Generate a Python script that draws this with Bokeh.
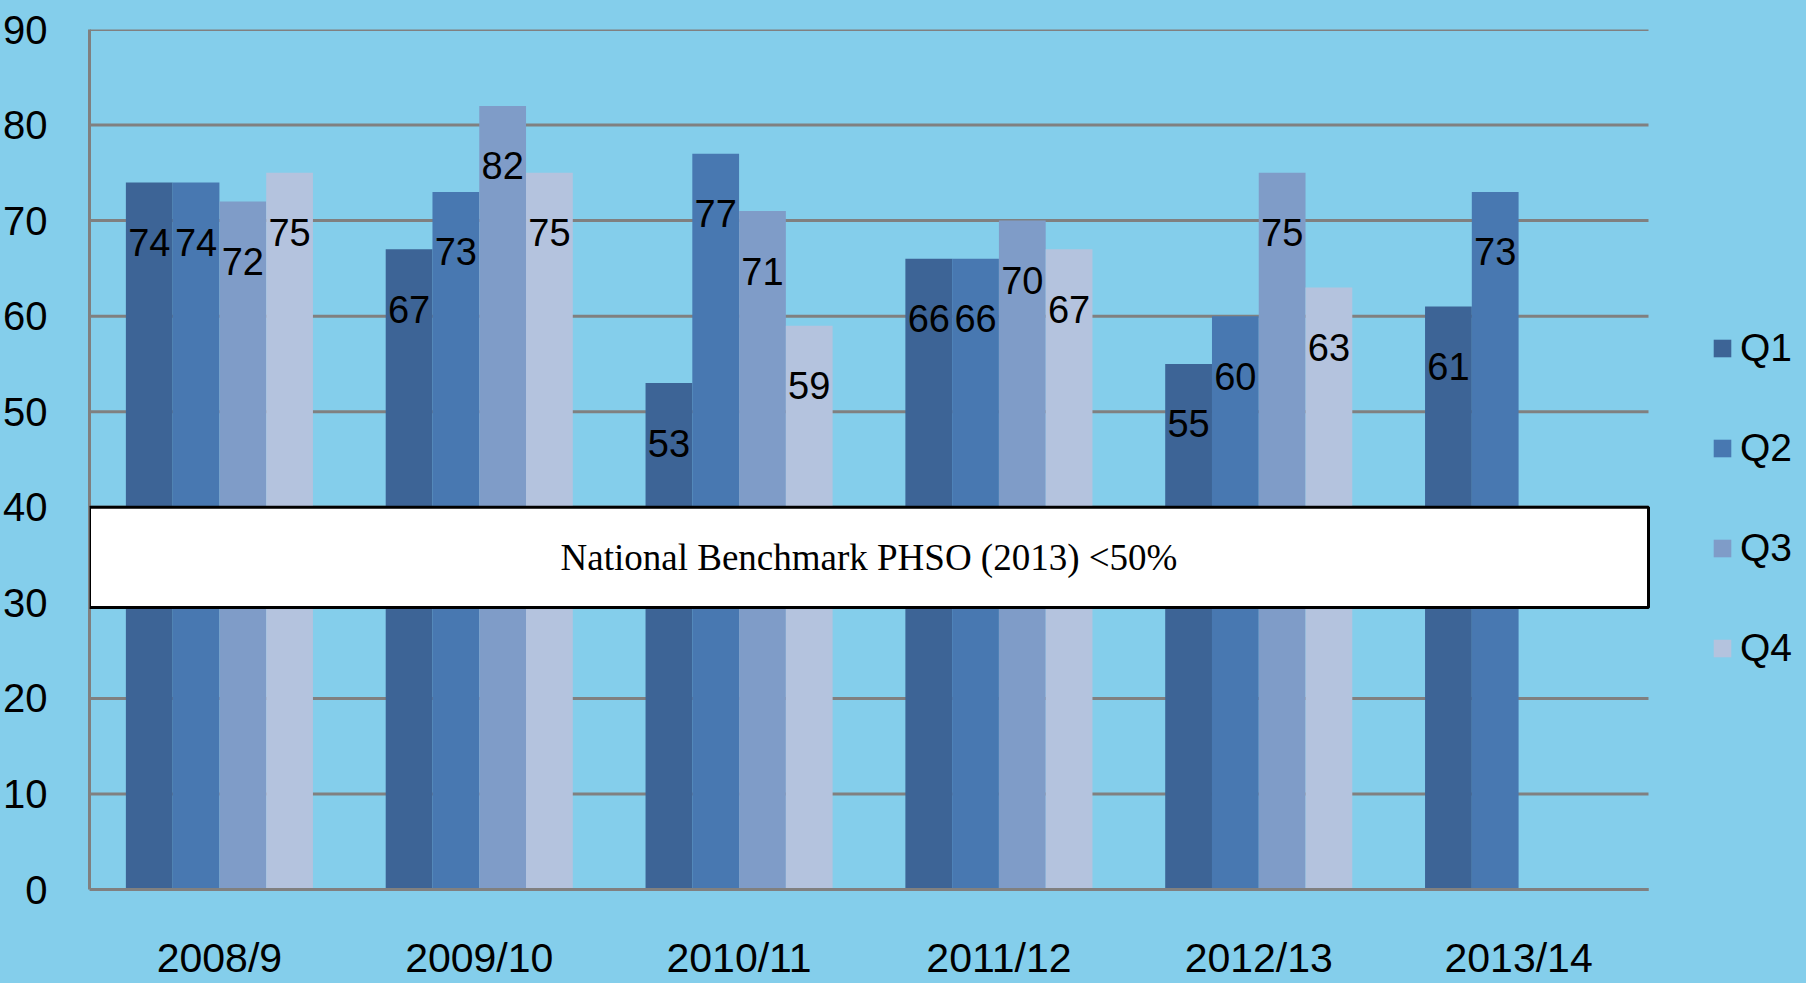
from bokeh.plotting import figure
from bokeh.models import ColumnDataSource, Range1d, BoxAnnotation, Label, Legend, LegendItem
from bokeh.core.properties import value
from bokeh.embed import file_html
from bokeh.resources import INLINE

# ---- data ----
years = ["2008/9", "2009/10", "2010/11", "2011/12", "2012/13", "2013/14"]
quarters = ["Q1", "Q2", "Q3", "Q4"]
q1 = [74, 67, 53, 66, 55, 61]
q2 = [74, 73, 77, 66, 60, 73]
q3 = [72, 82, 71, 70, 75, None]
q4 = [75, 75, 59, 67, 63, None]
y_ticks = [0, 10, 20, 30, 40, 50, 60, 70, 80, 90]
benchmark_text = "National Benchmark PHSO (2013) <50%"
bench_bottom = 29.5
bench_top = 40

# ---- style / layout ----
BG = "#84CEEB"
COLORS = ["#3D6496", "#4878B1", "#7F9CC8", "#B4C3DE"]
GRID = "#808080"
FONT = "Liberation Sans"
SERIF = "Liberation Serif"
OFFSETS = [-0.27, -0.09, 0.09, 0.27]
BAR_W = 0.18
W, H = 1806, 983
LEFT, TOP = 88, 29
PX_PER_CAT = 1559 / len(years)
PX_PER_UNIT = 860 / 90
X_END = (W - LEFT) / PX_PER_CAT
Y_START = 90 - (H - TOP) / PX_PER_UNIT

n = len(years)
centers = [i + 0.5 for i in range(n)]

p = figure(x_range=Range1d(0, X_END), y_range=Range1d(Y_START, 90),
           frame_width=W - LEFT, frame_height=H - TOP,
           min_border_left=LEFT, min_border_right=0, min_border_top=TOP, min_border_bottom=0,
           output_backend="svg", toolbar_location=None, title=None,
           background_fill_color=BG, border_fill_color=BG, outline_line_color=None)

p.xgrid.visible = False
p.ygrid.visible = False
p.xaxis.visible = False

p.yaxis.ticker = y_ticks
p.yaxis.bounds = (0, 90)
p.yaxis.axis_line_color = GRID
p.yaxis.axis_line_width = 3
p.yaxis.major_tick_line_color = None
p.yaxis.minor_tick_line_color = None
p.yaxis.major_label_text_font = FONT
p.yaxis.major_label_text_font_size = "40px"
p.yaxis.major_label_text_color = "black"
p.yaxis.major_label_standoff = 36

# horizontal grid lines (stop at the last category, like the reference)
p.segment(x0=0, x1=n, y0=y_ticks, y1=y_ticks, line_color=GRID, line_width=3)

series = [q1, q2, q3, q4]
items = []
for i, (q, vals) in enumerate(zip(quarters, series)):
    xs = [c + OFFSETS[i] for c, v in zip(centers, vals) if v is not None]
    vs = [v for v in vals if v is not None]
    src = ColumnDataSource(dict(x=xs, val=vs, lab=[str(v) for v in vs]))
    r = p.vbar(x="x", top="val", bottom=0, width=BAR_W, source=src,
               fill_color=COLORS[i], line_color=None)
    p.text(x="x", y="val", text="lab", source=src, y_offset=60,
           text_align="center", text_baseline="middle",
           text_font=value(FONT), text_font_size="38px", text_color="black")
    items.append(LegendItem(label=q, renderers=[r]))

# axis line at zero on top of bars
p.segment(x0=0, x1=n, y0=[0], y1=[0], line_color=GRID, line_width=3)

box = BoxAnnotation(left=0, right=n, bottom=bench_bottom, top=bench_top,
                    fill_color="white", fill_alpha=1,
                    line_color="black", line_alpha=1, line_width=3)
p.add_layout(box)
p.add_layout(Label(x=n / 2, y=(bench_bottom + bench_top) / 2, text=benchmark_text,
                   text_align="center", text_baseline="middle",
                   text_font=SERIF, text_font_size="37px", text_color="black"))

# category labels under the axis
year_src = ColumnDataSource(dict(x=centers, year=years, y0=[0] * n))
p.text(x="x", y="y0", text="year", source=year_src, y_offset=45,
       text_align="center", text_baseline="top",
       text_font=value(FONT), text_font_size="41px", text_color="black")

legend = Legend(items=items, location=(1622, 305), orientation="vertical",
                glyph_width=22, glyph_height=22, label_height=60, spacing=40,
                padding=0, margin=0, border_line_color=None, background_fill_alpha=0,
                label_text_font=FONT, label_text_font_size="39px", label_standoff=7,
                label_text_baseline="middle", label_text_color="black")
p.add_layout(legend)

html = file_html(p, INLINE)
html = html.replace("</head>",
                    "<style>html,body{margin:0;padding:0;background-color:%s;}</style></head>" % BG, 1)
open("out.html", "w").write(html)
